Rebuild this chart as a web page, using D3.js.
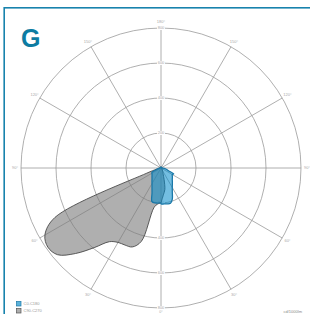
<!DOCTYPE html>
<html>
<head>
<meta charset="utf-8">
<script src="https://cdn.jsdelivr.net/npm/d3@7"></script>
<style>
  body { margin: 0; background: #fff; }
  svg { display: block; }
  text { font-family: "Liberation Sans", Arial, sans-serif; }
</style>
</head>
<body>
<script>
// Size of the page
var width = 310,
    height = 314;

// Centre and outer radius of the polar grid
var cx = 161, cy = 168, outer = 140;

// Gamma angles (from straight down), one value every 5 degrees
var gammas = [0,5,10,15,20,25,30,35,40,45,50,55,60,65,70,75,80,85,90,
              95,100,105,110,115,120,125,130,135,140,145,150,155,160,165,170,175,180];

// Intensities in cd/1000lm, C0-C180 plane
var c0 = [206,206,208,209,189,153,129,113,101,91,85,79,74,80,46,34,23,11,5,
          5,5,5,5,5,5,5,5,5,5,5,5,5,5,5,5,5,5];
var c180 = [200,201,203,199,150,122,103,90,80,73,67,63,60,57,29,23,14,9,5,
            5,5,5,5,5,5,5,5,5,5,5,5,5,5,5,5,5,5];

// Intensities, C90-C270 plane
var c90 = [200,154,126,69,34,23,17,14,11,9,6,6,6,6,6,6,6,6,6,
           6,6,6,6,6,6,6,6,6,6,6,6,6,6,6,6,6,6];
var c270 = [200,206,229,434,480,486,491,514,594,691,771,789,766,669,86,29,17,11,6,
            6,6,6,6,6,6,6,6,6,6,6,6,6,6,6,6,6,6];

// Ring values and angle labels
var rings = [200, 400, 600, 800];
var spokes = [0, 30, 60, 90, 120, 150, 180];

var legendItems = [
  {name: "C0-C180", fill: "#5bb2da", stroke: "#1a78a8"},
  {name: "C90-C270", fill: "#adadad", stroke: "#555"}
];

var r = d3.scaleLinear().domain([0, 800]).range([0, outer]);

var svg = d3.select("body").append("svg")
    .attr("width", width)
    .attr("height", height);

// Frame
svg.append("rect")
    .attr("x", 4.2).attr("y", 7.8)
    .attr("width", 320).attr("height", 330)
    .attr("fill", "none")
    .attr("stroke", "#1883ad")
    .attr("stroke-width", 1.6);

// Big letter
svg.append("text")
    .attr("x", 21).attr("y", 47)
    .attr("fill", "#0d7ca2")
    .attr("font-size", 25)
    .attr("font-weight", "bold")
    .attr("font-family", "'Open Sans', sans-serif")
    .text("G");

var g = svg.append("g").attr("transform", "translate(" + cx + "," + cy + ")");

// Rings
g.selectAll(".ring")
    .data(rings)
    .enter().append("circle")
    .attr("r", d => r(d))
    .attr("fill", "none")
    .attr("stroke", "#9a9a9a")
    .attr("stroke-width", 0.8);

// Spokes, every 30 degrees, both halves
function pt(gamma, side, rad) {
    var a = gamma * Math.PI / 180;
    return [side * rad * Math.sin(a), rad * Math.cos(a)];
}

[-1, 1].forEach(function(side) {
    g.selectAll(null)
        .data(spokes.filter(d => d > 0 && d < 180))
        .enter().append("line")
        .attr("x1", 0).attr("y1", 0)
        .attr("x2", d => pt(d, side, outer)[0])
        .attr("y2", d => pt(d, side, outer)[1])
        .attr("stroke", "#9a9a9a")
        .attr("stroke-width", 0.8);
});
g.append("line")
    .attr("x1", 0).attr("y1", -outer)
    .attr("x2", 0).attr("y2", outer)
    .attr("stroke", "#9a9a9a")
    .attr("stroke-width", 0.8);

// Ring value labels along the vertical axis (under the curves)
[-1, 1].forEach(function(dir) {
    var lab = g.selectAll(null)
        .data(rings)
        .enter().append("g")
        .attr("transform", d => "translate(0," + (dir * r(d)) + ")");
    lab.append("rect")
        .attr("x", -4).attr("y", -2)
        .attr("width", 8).attr("height", 4)
        .attr("fill", "#fff");
    lab.append("text")
        .attr("text-anchor", "middle")
        .attr("dy", "0.35em")
        .attr("font-size", 4)
        .attr("fill", "#aaa")
        .text(d => d);
});

// Build a closed outline from two half planes
function outline(right, left) {
    var pts = [];
    gammas.forEach(function(gm, i) {
        pts.push([Math.PI - gm * Math.PI / 180, r(right[i])]);
    });
    for (var i = gammas.length - 1; i >= 0; i--) {
        pts.push([Math.PI + gammas[i] * Math.PI / 180, r(left[i])]);
    }
    return pts;
}

var radial = d3.lineRadial()
    .angle(d => d[0])
    .radius(d => d[1])
    .curve(d3.curveCatmullRomClosed.alpha(0.5));

g.append("path")
    .attr("d", radial(outline(c90, c270)))
    .attr("fill", "#7a7a7a")
    .attr("fill-opacity", 0.6)
    .attr("stroke", "#4a4a4a")
    .attr("stroke-width", 0.9)
    .attr("stroke-linejoin", "round");

g.append("path")
    .attr("d", radial(outline(c0, c180)))
    .attr("fill", "#0088c8")
    .attr("fill-opacity", 0.55)
    .attr("stroke", "#1a78a8")
    .attr("stroke-width", 1.3)
    .attr("stroke-linejoin", "round");

// Angle labels
var labR = outer + 6;
[-1, 1].forEach(function(side) {
    g.selectAll(null)
        .data(spokes.filter(d => d > 0 && d < 180))
        .enter().append("text")
        .attr("x", d => pt(d, side, labR)[0])
        .attr("y", d => pt(d, side, labR)[1])
        .attr("text-anchor", "middle")
        .attr("dy", "0.35em")
        .attr("font-size", 4)
        .attr("fill", "#aaa")
        .text(d => d + "°");
});
g.append("text")
    .attr("x", 0).attr("y", -outer - 5)
    .attr("text-anchor", "middle")
    .attr("font-size", 4)
    .attr("fill", "#aaa")
    .text("180°");
g.append("text")
    .attr("x", 0).attr("y", outer + 4.8)
    .attr("text-anchor", "middle")
    .attr("font-size", 3.5)
    .attr("fill", "#aaa")
    .text("0°");

// Legend
var leg = svg.selectAll(".leg")
    .data(legendItems)
    .enter().append("g")
    .attr("transform", (d, i) => "translate(16.5," + (301.5 + i * 7) + ")");
leg.append("rect")
    .attr("width", 4.5).attr("height", 4.5)
    .attr("fill", d => d.fill)
    .attr("stroke", d => d.stroke)
    .attr("stroke-width", 0.7);
leg.append("text")
    .attr("x", 7).attr("y", 3.6)
    .attr("font-size", 4)
    .attr("fill", "#999")
    .text(d => d.name);

// Unit
svg.append("text")
    .attr("x", 302).attr("y", 312.5)
    .attr("text-anchor", "end")
    .attr("font-size", 4)
    .attr("fill", "#888")
    .text("cd/1000lm");
</script>
</body>
</html>
